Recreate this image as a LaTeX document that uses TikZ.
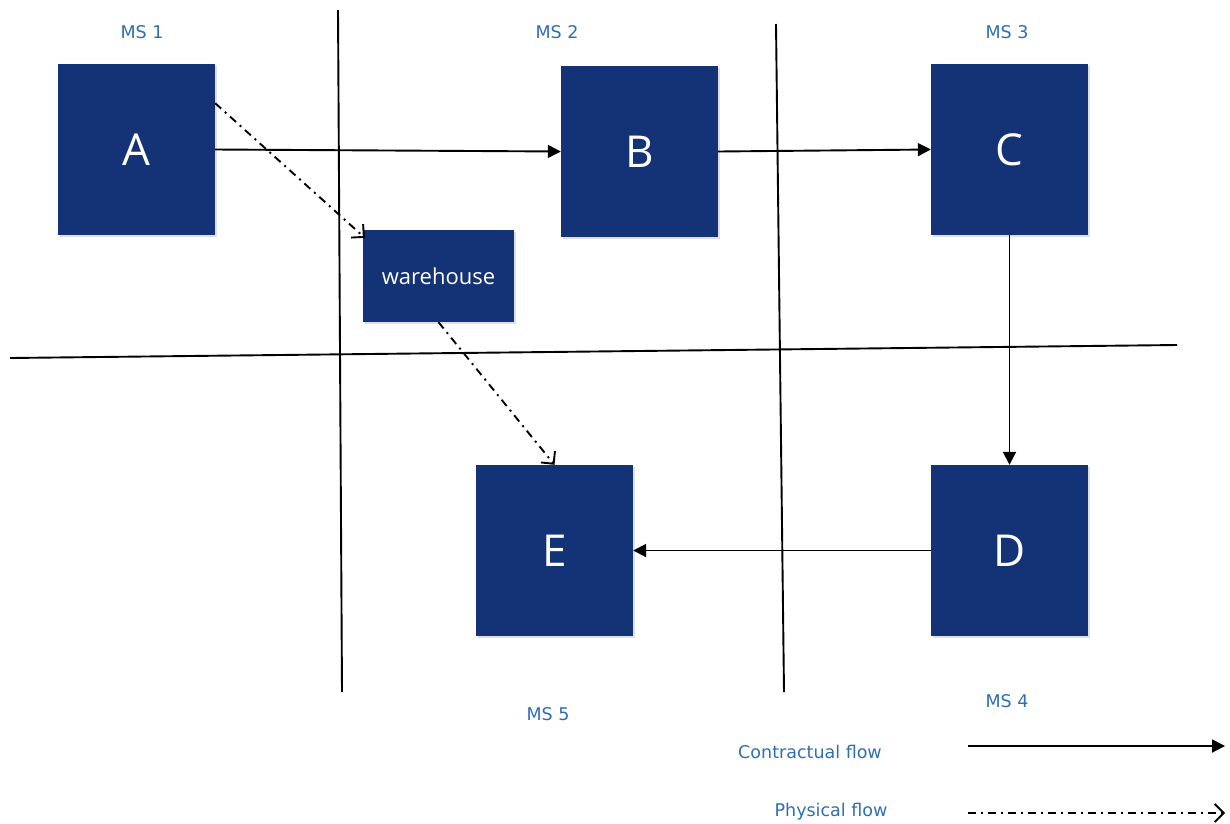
\documentclass[tikz,border=0pt]{standalone}
\usepackage{fontspec}
\setmainfont{DejaVu Sans}
\newfontfamily\boxfont{Open Sans}
\usetikzlibrary{arrows.meta,shadows,calc}
\definecolor{boxblue}{RGB}{20,50,118}
\definecolor{lblblue}{RGB}{46,110,180}
\tikzset{
  msbox/.style={draw=none, fill=boxblue, minimum width=157pt, minimum height=171pt, inner sep=0pt,
    text=white, font=\boxfont\fontsize{44}{48}\selectfont,
    drop shadow={shadow xshift=1.5pt, shadow yshift=-2pt, opacity=0.25}},
  whbox/.style={msbox, minimum width=151pt, minimum height=92pt, font=\boxfont\fontsize{22}{25}\selectfont},
  lbl/.style={text=lblblue, font=\fontsize{17.5}{20}\selectfont, inner sep=0pt},
  sep/.style={line width=1.9pt, black},
  contract/.style={line width=1.9pt, -{Triangle[length=13pt,width=13pt]}},
  physical/.style={line width=1.9pt, dash pattern=on 8pt off 5pt on 2pt off 5pt,
    -{Straight Barb[length=9pt,width=18pt,line width=1.9pt]}}
}
\begin{document}
\begin{tikzpicture}[x=1pt,y=-1pt]
\useasboundingbox (0,0) rectangle (1230,823);
% separators
\draw[sep] (338,10) -- (342,692);
\draw[sep] (776,24) -- (784,692);
\draw[sep] (10,358) -- (1177,345);
% nodes
\node[msbox] (A) at (136.5,149.5) {A};
\node[msbox] (B) at (639.5,151.5) {B};
\node[msbox] (C) at (1009.5,149.5) {C};
\node[whbox] (W) at (438.5,276) {warehouse};
\node[msbox] (E) at (554.5,550.5) {E};
\node[msbox] (D) at (1009.5,550.5) {D};
% labels
\node[lbl] (ms1) at (142,32) {MS 1};
\node[lbl] (ms2) at (557,32) {MS 2};
\node[lbl] (ms3) at (1007,32) {MS 3};
\node[lbl] (ms5) at (548,714) {MS 5};
\node[lbl] (ms4) at (1007,701) {MS 4};
\node[lbl] (lc) at (810,752) {Contractual flow};
\node[lbl] (lp) at (831,812) {Physical flow};
% connectors
\draw[contract] (A.east) -- (B.west);
\draw[contract] (B.east) -- (C.west);
\draw[contract] (C.south) -- (D.north);
\draw[contract] (D.west) -- (E.east);
\coordinate (Astart) at ($(A.north east)!0.23!(A.south east)$);
\coordinate (Wend) at ($(W.north west)+(2,8)$);
\draw[physical] (Astart) -- (Wend);
\draw[physical] (W.south) -- (E.north);
% legend
\coordinate (c1) at (968,746);
\coordinate (c2) at (1225,746);
\coordinate (p1) at (968,813);
\coordinate (p2) at (1225,813);
\draw[contract] (c1) -- (c2);
\draw[physical] (p1) -- (p2);
\end{tikzpicture}
\end{document}
